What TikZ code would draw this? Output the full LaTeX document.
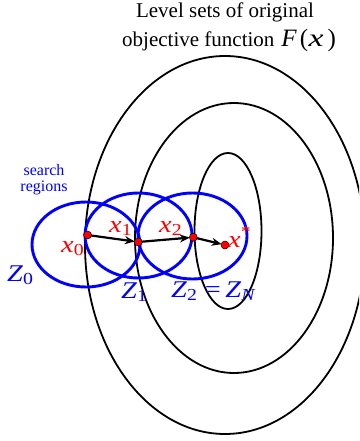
\documentclass[tikz,border=0pt]{standalone}
\usepackage{fontspec}
\usepackage{graphicx}
\setmainfont{Liberation Serif}
\usetikzlibrary{arrows.meta}
\newcommand{\wide}[1]{\scalebox{1.18}[1]{#1}}
\tikzset{
  levelset/.style={draw=black, line width=1.8pt},
  region/.style={draw=blue, line width=2.9pt},
  iterpt/.style={circle, fill=red, draw=black, line width=0.5pt, inner sep=0pt, minimum size=8pt},
  steparrow/.style={-{Stealth[length=10pt,width=8pt]}, line width=2.2pt, shorten >=3.5pt},
  redlbl/.style={text=red, font=\fontsize{24}{26}\selectfont, inner sep=0pt, anchor=base west},
  bluelbl/.style={text=blue, font=\fontsize{24}{26}\selectfont, inner sep=0pt, anchor=base west},
  titlelbl/.style={text=black, font=\fontsize{21}{24}\selectfont, inner sep=0pt},
}
\begin{document}
\begin{tikzpicture}[x=1pt,y=-1pt]
\useasboundingbox (0,0) rectangle (359,441);
\clip (0,0) rectangle (359,441);
% level sets
\draw[levelset] (225,245) ellipse [x radius=140, y radius=189];
\draw[levelset] (234,238) ellipse [x radius=99, y radius=135];
\draw[levelset] (228,231) ellipse [x radius=33.5, y radius=78];
% search regions
\draw[region] (86,244.5) ellipse [x radius=54, y radius=42.5];
\draw[region] (138.5,235.5) ellipse [x radius=53.5, y radius=42.5];
\draw[region] (192.5,236) ellipse [x radius=54.5, y radius=43];
% iterates
\coordinate (c0) at (87.5,235);
\coordinate (c1) at (138.3,242);
\coordinate (c2) at (193.3,237.3);
\coordinate (cs) at (225,245);
\draw[steparrow] (c0) -- (c1);
\draw[steparrow] (c1) -- (c2);
\draw[steparrow] (c2) -- (cs);
\node[iterpt] (p0) at (c0) {};
\node[iterpt] (p1) at (c1) {};
\node[iterpt] (p2) at (c2) {};
\node[iterpt] (ps) at (cs) {};
% labels
\node[redlbl] (l0) at (61,252) {\wide{\textit{x}\textsubscript{0}}};
\node[redlbl] (l1) at (109,232) {\wide{\textit{x}\textsubscript{1}}};
\node[redlbl] (l2) at (159,232) {\wide{\textit{x}\textsubscript{2}}};
\node[redlbl] (ls) at (228,247) {\wide{\textit{x}\textsuperscript{*}}};
\node[bluelbl] (z0) at (7,281) {\wide{\textit{Z}\textsubscript{0}}};
\node[bluelbl] (z1) at (121,298) {\wide{\textit{Z}\textsubscript{1}}};
\node[bluelbl] (z2) at (171,297) {\wide{\textit{Z}\textsubscript{2}\hspace{6pt}=\hspace{4pt}\textit{Z}\textsubscript{\textit{N}}}};
\node[text=blue, font=\fontsize{16}{16}\selectfont, align=center, inner sep=0pt] (sr) at (44,179.5) {search\\regions};
% title
\node[titlelbl, anchor=base] (t1) at (225,18) {Level sets of original};
\node[titlelbl, anchor=base west] (t2) at (122,47) {objective function\hspace{7pt}{\fontsize{25}{28}\selectfont\textit{F}\hspace{3pt}(\hspace{0.5pt}\scalebox{1.35}[1]{\textit{x}}\hspace{4pt})}};
\end{tikzpicture}
\end{document}
